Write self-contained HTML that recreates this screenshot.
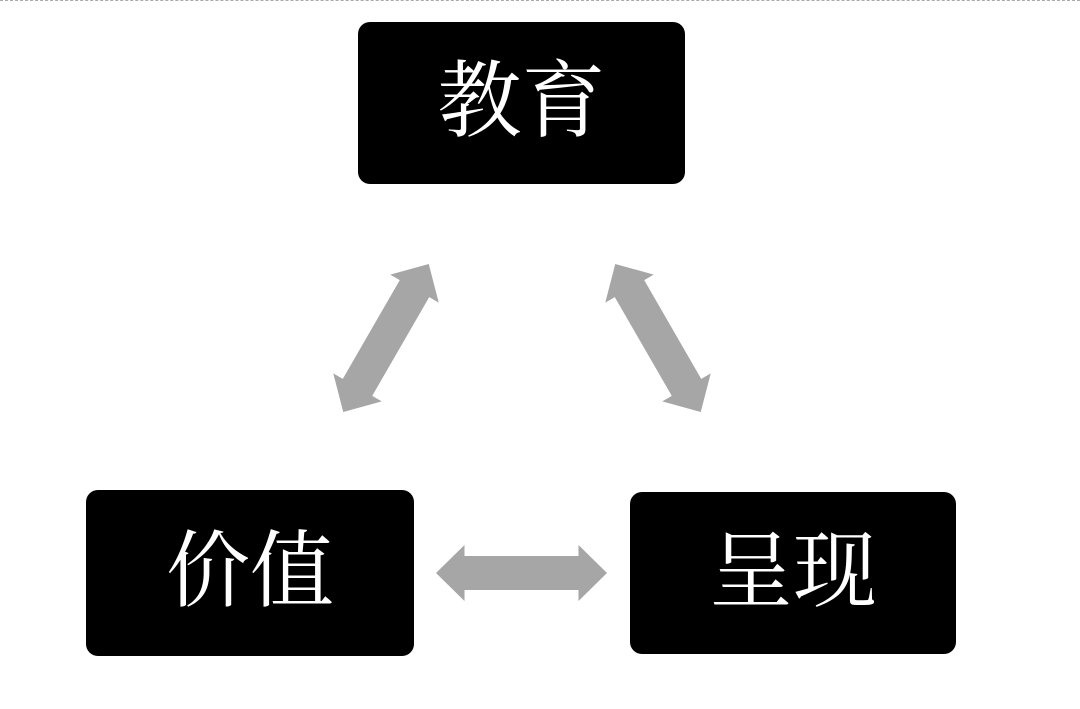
<!DOCTYPE html>
<html><head><meta charset="utf-8"><style>
html,body{margin:0;padding:0;background:#fff;}
body{width:1080px;height:709px;position:relative;overflow:hidden;}
.top{position:absolute;left:0;top:0;width:1080px;border-top:1px dashed #aaa;}
.box{position:absolute;background:#000;border-radius:12px;color:#fff;display:flex;align-items:center;justify-content:center;font-family:"Liberation Serif","Noto Serif CJK SC",serif;font-size:84px;line-height:1;}
svg{position:absolute;left:0;top:0;}
</style></head><body>
<div class="top"></div>
<div class="box" style="left:358px;top:22px;width:327px;height:162px;">教育</div>
<div class="box" style="left:86px;top:490px;width:328px;height:166px;">价值</div>
<div class="box" style="left:630px;top:492px;width:326px;height:162px;">呈现</div>
<svg width="1080" height="709">
<defs><polygon id="a" points="-85.5,0 -57,-28 -57,-17 57,-17 57,-28 85.5,0 57,28 57,17 -57,17 -57,28" fill="#a6a6a6"/></defs>
<use href="#a" transform="translate(521.5,573)"/>
<use href="#a" transform="translate(386,338) rotate(-60)"/>
<use href="#a" transform="translate(658,338) rotate(60)"/>
</svg>
</body></html>
